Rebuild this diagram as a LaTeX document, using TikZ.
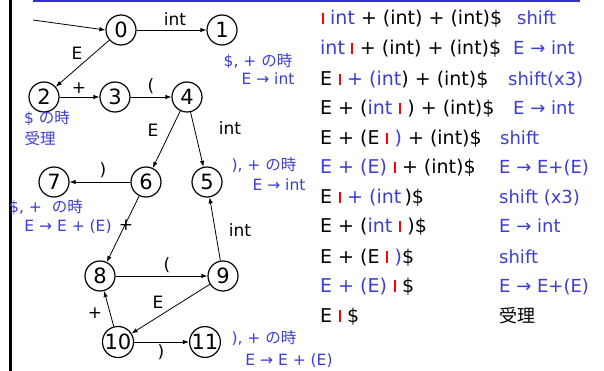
\documentclass[tikz,border=0pt]{standalone}
\usepackage{fontspec}
\setmainfont{DejaVu Sans}
\newfontfamily\jp{Noto Sans CJK JP}
\usetikzlibrary{arrows.meta}
\definecolor{tblue}{RGB}{60,60,220}
\definecolor{barblue}{RGB}{51,51,204}
\newcommand{\cur}{\kern6.5pt{\color{red}\vrule width 2pt height 12pt depth -0.5pt}\kern6.5pt}
\newcommand{\bl}[1]{\textcolor{tblue}{#1}}

\begin{document}
\begin{tikzpicture}[x=1pt, y=-1pt, >={Latex[length=6pt,width=4.5pt]},
  st/.style={draw, circle, line width=1.2pt, minimum size=30pt, inner sep=0pt, font=\fontsize{21}{21}\selectfont},
  lab/.style={inner sep=1pt, font=\fontsize{17}{17}\selectfont},
  note/.style={inner sep=0pt, text=tblue, font=\fontsize{15.5}{15.5}\selectfont},
  row/.style={anchor=base west, inner sep=0pt, font=\fontsize{19}{19}\selectfont},
  act/.style={anchor=base west, inner sep=0pt, text=tblue, font=\fontsize{18}{18}\selectfont}]
	\useasboundingbox (0,0) rectangle (604,371);
	\fill[barblue] (33,0) rectangle (580,2.5);
	\fill[black] (8.5,0) rectangle (11.5,371);
	% automaton
	\node[st] (s0) at (121,30) {0};
	\node[st] (s1) at (222,30) {1};
	\node[st] (s2) at (44,97) {2};
	\node[st] (s3) at (115,97) {3};
	\node[st] (s4) at (187,97) {4};
	\node[st] (s7) at (54,182) {7};
	\node[st] (s6) at (146,182) {6};
	\node[st] (s5) at (207,182) {5};
	\node[st] (s8) at (100,276) {8};
	\node[st] (s9) at (223,276) {9};
	\node[st] (s10) at (118,342) {10};
	\node[st] (s11) at (205,342) {11};
	\coordinate (in) at (33,20);
	\begin{scope}[line width=0.8pt]
		\draw[->] (in) -- (s0.west);
		\draw[->] (s0) -- (s1); \draw[->] (s0) -- (s2);
		\draw[->] (s2) -- (s3); \draw[->] (s3) -- (s4);
		\draw[->] (s4) -- (s6); \draw[->] (s4) -- (s5);
		\draw[->] (s6) -- (s7); \draw[->] (s6) -- (s8);
		\draw[->] (s8) -- (s9); \draw[->] (s9) -- (s5);
		\draw[->] (s9) -- (s10); \draw[->] (s10) -- (s8);
		\draw[->] (s10) -- (s11);
	\end{scope}
	\node[lab] (l01) at (175,19) {int};
	\node[lab] (l02) at (77,53) {E};
	\node[lab] (l23) at (79,88) {+};
	\node[lab] (l34) at (151,86) {(};
	\node[lab] (l46) at (153,130) {E};
	\node[lab] (l45) at (230,128) {int};
	\node[lab] (l67) at (103,170) {)};
	\node[lab] (l68) at (126,225) {+};
	\node[lab] (l95) at (240,230) {int};
	\node[lab] (l89) at (167,265) {(};
	\node[lab] (l910) at (158,302) {E};
	\node[lab] (l108) at (95,313) {+};
	\node[lab] (l1011) at (161,352) {)};
	% reduce notes
	\node[note] (n1a) at (258,61) {\$, + {\jp の時}};
	\node[note] (n1b) at (268,79) {E → int};
	\node[note] (n2a) at (47,118) {\$ {\jp の時}};
	\node[note] (n2b) at (40,139) {\jp 受理};
	\node[note] (n5a) at (264,165) {), + {\jp の時}};
	\node[note] (n5b) at (279,185) {E → int};
	\node[note] (n7a) at (46,207) {\$, +\ \ {\jp の時}};
	\node[note] (n7b) at (68,227) {E → E + (E)};
	\node[note] (n11a) at (264,338) {), + {\jp の時}};
	\node[note] (n11b) at (289,361) {E → E + (E)};
	% parse trace
	\node[row] (r1) at (315,25) {\cur\bl{int} + (int) + (int)\$};
	\node[row] (r2) at (320,55) {\bl{int}\cur+ (int) + (int)\$};
	\node[row] (r3) at (320,86) {E\cur\bl{+ (int}) + (int)\$};
	\node[row] (r4) at (320,115) {E + (\bl{int}\cur) + (int)\$};
	\node[row] (r5) at (320,145) {E + (E\cur\bl{)} + (int)\$};
	\node[row] (r6) at (320,174) {\bl{E + (E)}\cur+ (int)\$};
	\node[row] (r7) at (320,204) {E\cur\bl{+ (int}\,)\$};
	\node[row] (r8) at (320,233) {E + (\bl{int}\cur)\$};
	\node[row] (r9) at (320,263) {E + (E\cur\bl{)}\$};
	\node[row] (r10) at (320,292) {\bl{E + (E)}\cur\$};
	\node[row] (r11) at (320,322) {E\cur\$};
	\node[act] (a1) at (517,25) {shift};
	\node[act] (a2) at (513,55) {E → int};
	\node[act] (a3) at (508,86) {shift(x3)};
	\node[act] (a4) at (513,115) {E → int};
	\node[act] (a5) at (500,145) {shift};
	\node[act] (a6) at (499,174) {E → E+(E)};
	\node[act] (a7) at (499,204) {shift (x3)};
	\node[act] (a8) at (499,233) {E → int};
	\node[act] (a9) at (499,263) {shift};
	\node[act] (a10) at (499,292) {E → E+(E)};
	\node[act, text=black] (a11) at (499,322) {\jp 受理};
\end{tikzpicture}
\end{document}
